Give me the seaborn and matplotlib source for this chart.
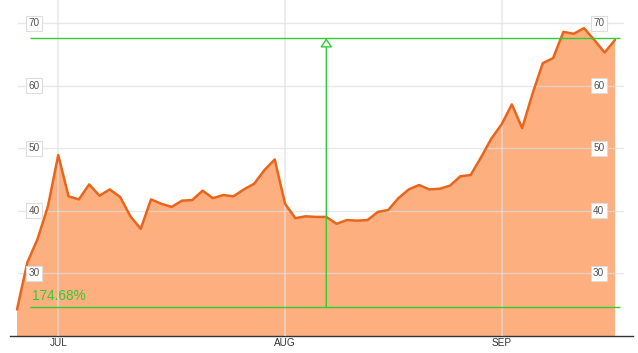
"""
Price area chart with a percent-change marker
"""
import numpy as np
import pandas as pd
import matplotlib
matplotlib.use('Agg')
import matplotlib.pyplot as plt
import seaborn as sns
from matplotlib.patches import FancyArrowPatch
import matplotlib.transforms as mtransforms

# data (one point per trading day)
values = [24.2, 31.7, 35.5, 40.7, 48.9, 42.3, 41.8, 44.2, 42.4, 43.4,
          42.2, 39.1, 37.1, 41.8, 41.1, 40.6, 41.6, 41.7, 43.2, 42.0,
          42.5, 42.3, 43.4, 44.3, 46.5, 48.2, 41.1, 38.8, 39.1, 39.0,
          39.0, 37.9, 38.5, 38.4, 38.5, 39.8, 40.1, 42.0, 43.4, 44.1,
          43.4, 43.5, 44.0, 45.5, 45.7, 48.5, 51.5, 53.8, 57.0, 53.2,
          58.7, 63.6, 64.4, 68.6, 68.3, 69.2, 67.3, 65.3, 67.3]
month_pos = [4, 26, 47]
month_labels = ['JUL', 'AUG', 'SEP']
y_ticks = [30, 40, 50, 60, 70]
low_level = 24.6
high_level = 67.6
change_text = '174.68%'
marker_day = 30

df = pd.DataFrame({'day': np.arange(len(values)), 'price': values})

sns.set_style("white")
plt.rcParams['font.family'] = ['Liberation Sans', 'DejaVu Sans']

fig = plt.figure(figsize=(6.38, 3.53), dpi=100)
ax = fig.add_axes([10 / 638, 1 - 335.7 / 353, 623 / 638, 335.7 / 353])

line_col = '#E8651C'
fill_col = '#FDAF80'
green = '#33CC33'
grid_col = '#DDDDDD'

# area + line
ax.fill_between(df['day'], df['price'], 0, color=fill_col, lw=0, zorder=2)
sns.lineplot(data=df, x='day', y='price', ax=ax, color=line_col, lw=1.8, zorder=4)

ax.set_xlim(-0.68, 59.75)
ax.set_ylim(20, 73.7)

# grid: horizontal lines and month lines, drawn faintly over the fill
tr = mtransforms.blended_transform_factory(ax.transAxes, ax.transData)
for y in y_ticks:
    ax.plot([0.013, 0.984], [y, y], color=grid_col, lw=1, alpha=0.7, zorder=3,
            transform=tr)
for x in month_pos:
    ax.axvline(x, color='#E2E2E2', lw=1.2, alpha=0.7, zorder=3)

# y labels in small boxes on both sides
for y in y_ticks:
    for xf in [0.0385, 0.945]:
        ax.text(xf, y, str(y), transform=tr, ha='center', va='center', fontsize=7.2,
                color='#555555', zorder=6,
                bbox=dict(boxstyle='square,pad=0.25', fc='white', ec='#DDDDDD', lw=0.8))

# percent change markers
ax.hlines([low_level, high_level], 1.26, 58.5, color=green, lw=1, zorder=5)
arrow = FancyArrowPatch((marker_day, low_level), (marker_day, high_level),
                        arrowstyle='-|>,head_length=0.45,head_width=0.3',
                        color=green, fc='white', lw=1, zorder=6,
                        shrinkA=0, shrinkB=0, mutation_scale=12)
ax.add_patch(arrow)
ax.text(1.5, low_level + 0.6, change_text, color=green, fontsize=9.8, ha='left',
        va='bottom', zorder=6)

# x axis
ax.set_xticks(month_pos)
ax.set_xticklabels(month_labels, fontsize=7.2, color='#333333')
ax.tick_params(axis='x', length=0, pad=2)
ax.set_yticks([])
ax.set_xlabel('')
ax.set_ylabel('')
for s in ['top', 'left', 'right']:
    ax.spines[s].set_visible(False)
ax.spines['bottom'].set_color('#333333')
ax.spines['bottom'].set_linewidth(1)

fig.savefig('out.png', dpi=100)
